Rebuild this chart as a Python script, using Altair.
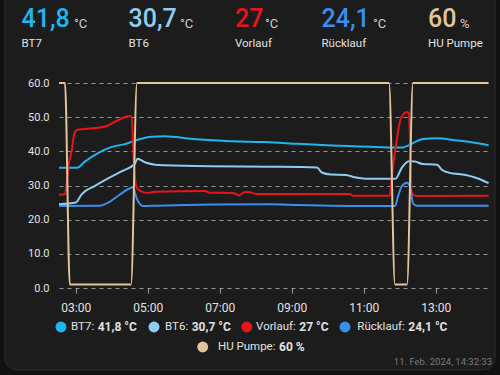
import altair as alt
import pandas as pd

DAY = "2024-02-11T"

# ---------------- data ----------------
series_names = ["BT7", "BT6", "Vorlauf", "Rücklauf", "HU Pumpe"]
series_colors = ["#1fb5f0", "#90cbf2", "#e8141c", "#3a8ef0", "#e3c49b"]
current_values = ["41,8", "30,7", "27", "24,1", "60"]
units = ["°C", "°C", "°C", "°C", "%"]

bt7_times = ["02:32", "03:02", "03:15", "03:37", "04:00", "04:22", "04:43", "05:07", "05:28",
             "06:15", "07:12", "08:15", "09:10", "10:07", "11:18", "12:03", "12:22", "12:38",
             "13:02", "13:35", "14:02", "14:28"]
bt7_values = [35.2, 35.2, 37.0, 39.5, 41.3, 42.1, 43.4, 44.3, 44.4,
              43.6, 43.0, 42.7, 42.2, 41.7, 41.3, 41.1, 42.4, 43.6,
              43.8, 43.2, 42.6, 41.8]

bt6_times = ["02:32", "03:00", "03:10", "03:32", "03:53", "04:17", "04:38", "04:43", "04:55",
             "05:12", "05:28", "06:43", "08:23", "09:42", "09:50", "10:05", "10:30", "10:45",
             "11:03", "11:53", "12:03", "12:15", "12:25", "12:38", "13:02", "13:10", "13:23",
             "13:50", "14:08", "14:28"]
bt6_values = [24.5, 25.0, 27.5, 29.9, 32.0, 34.2, 36.3, 37.8, 36.8,
              36.1, 35.9, 35.6, 35.5, 35.3, 33.8, 33.2, 33.1, 32.4,
              32.0, 32.0, 35.1, 37.1, 37.0, 36.3, 36.1, 34.6, 33.7,
              33.1, 32.2, 30.7]

vorlauf_times = ["02:32", "02:42", "02:45", "02:48", "02:53", "02:58", "03:03", "03:32", "03:53",
                 "04:10", "04:27", "04:33", "04:37", "04:42", "04:50", "05:00", "05:12", "06:35",
                 "06:43", "07:22", "07:32", "07:42", "07:50", "08:02", "10:37", "10:42", "11:43",
                 "11:48", "11:55", "12:02", "12:12", "12:15", "12:20", "12:28", "14:28"]
vorlauf_values = [27.3, 27.5, 31.0, 36.0, 40.0, 45.5, 46.3, 46.8, 47.5,
                  49.1, 50.3, 50.2, 36.0, 29.2, 28.2, 27.8, 28.2, 28.4,
                  27.9, 27.8, 27.1, 28.1, 28.0, 27.5, 27.5, 27.0, 27.0,
                  34.6, 43.4, 49.8, 51.5, 51.2, 27.8, 26.9, 27.0]

ruecklauf_times = ["02:32", "03:40", "03:57", "04:13", "04:30", "04:35", "04:42", "04:52", "05:15",
                   "08:23", "09:10", "11:18", "11:52", "11:57", "12:03", "12:12", "12:17", "12:22",
                   "12:28", "14:28"]
ruecklauf_values = [24.0, 24.1, 25.3, 27.3, 29.2, 29.5, 26.0, 24.0, 24.1,
                    24.5, 24.3, 24.0, 24.0, 26.8, 29.7, 30.8, 29.7, 24.8,
                    24.1, 24.1]

pumpe_times = ["02:32", "02:42", "02:50", "04:32", "04:42", "11:42", "11:52", "12:12", "12:22", "14:28"]
pumpe_values = [60, 60, 1, 1, 60, 60, 1, 1, 60, 60]

y_ticks = [0, 10, 20, 30, 40, 50, 60]
x_tick_hours = [3, 5, 7, 9, 11, 13]
timestamp_text = "11. Feb. 2024, 14:32:33"

series_data = [
    ("BT7", bt7_times, bt7_values),
    ("BT6", bt6_times, bt6_values),
    ("Vorlauf", vorlauf_times, vorlauf_values),
    ("Rücklauf", ruecklauf_times, ruecklauf_values),
    ("HU Pumpe", pumpe_times, pumpe_values),
]

# ---------------- layout ----------------
PL, PT, W, H = 59, 83, 432, 205
FONT = "Roboto"
BG = "#111111"
CARD = "#1c1c1c"
TEXT = "#e1e1e1"


def rx(x):
    return x - PL


def ry(y):
    return y - PT


def dt(h, m=0):
    return alt.DateTime(year=2024, month=2, date=11, hours=h, minutes=m)


x_scale = alt.Scale(domain=[dt(2, 32), dt(14, 32)])
y_scale = alt.Scale(domain=[0, 60], nice=False)

x_axis = alt.Axis(values=[dt(h) for h in x_tick_hours], format="%H:%M",
                  grid=False, domain=False, tickSize=5, tickColor="#a0a0a0",
                  labelColor=TEXT, labelFontSize=12, labelFont=FONT, labelPadding=9)
y_axis = alt.Axis(values=y_ticks, format=".1f", grid=True, gridDash=[4, 4],
                  gridColor="#bdbdbd", gridOpacity=0.75, domain=False, ticks=False,
                  labelColor=TEXT, labelFontSize=11, labelFont=FONT, labelPadding=10)

one = alt.Data(values=[{}])

layers = []

# series lines
for i, (name, ts, vs) in enumerate(series_data):
    df = pd.DataFrame({"time": [DAY + t for t in ts], "value": vs, "series": name})
    layers.append(
        alt.Chart(df).mark_line(color=series_colors[i], strokeWidth=2, interpolate="monotone").encode(
            x=alt.X("time:T", scale=x_scale, title=None, axis=x_axis),
            y=alt.Y("value:Q", scale=y_scale, title=None, axis=y_axis),
        )
    )

# header
header_x = [21.5, 128.5, 235, 321.5, 428]
unit_x = [74, 180, 265, 373, 460]
for i in range(5):
    layers.append(alt.Chart(one).mark_text(text=current_values[i], font=FONT, fontSize=25, fontWeight=500,
                                           color=series_colors[i], align="left", baseline="alphabetic")
                  .encode(x=alt.value(rx(header_x[i])), y=alt.value(ry(27))))
    layers.append(alt.Chart(one).mark_text(text=units[i], font=FONT, fontSize=13,
                                           color="#cfcfcf", align="left", baseline="alphabetic")
                  .encode(x=alt.value(rx(unit_x[i])), y=alt.value(ry(28))))
    layers.append(alt.Chart(one).mark_text(text=series_names[i], font=FONT, fontSize=11.5,
                                           color=TEXT, align="left", baseline="alphabetic")
                  .encode(x=alt.value(rx(header_x[i])), y=alt.value(ry(47))))

# custom legend
leg_dot_x = [61, 154, 246.7, 345, 202.7]
leg_bold_x = [97.7, 191.7, 299.3, 408.3, 279]
leg_y = [327, 327, 327, 327, 347]
for i in range(5):
    layers.append(alt.Chart(one).mark_point(filled=True, shape="circle", size=120, opacity=1,
                                            color=series_colors[i])
                  .encode(x=alt.value(rx(leg_dot_x[i])), y=alt.value(ry(leg_y[i]))))
    layers.append(alt.Chart(one).mark_text(text=series_names[i] + ":", font=FONT, fontSize=11.5,
                                           color=TEXT, align="right", baseline="middle")
                  .encode(x=alt.value(rx(leg_bold_x[i] - 3.5)), y=alt.value(ry(leg_y[i]))))
    layers.append(alt.Chart(one).mark_text(text=current_values[i] + " " + units[i], font=FONT, fontSize=12,
                                           fontWeight="bold", color=TEXT, align="left", baseline="middle")
                  .encode(x=alt.value(rx(leg_bold_x[i])), y=alt.value(ry(leg_y[i]))))

# timestamp
layers.append(alt.Chart(one).mark_text(text=timestamp_text, font=FONT, fontSize=9.5,
                                       color="#7a7a7a", align="right", baseline="alphabetic")
              .encode(x=alt.value(rx(492)), y=alt.value(ry(365))))

# outer page background around the rounded card (thick stroke outside the card edge)
layers.append(
    alt.Chart(one).mark_rect(fillOpacity=0, stroke=BG, strokeWidth=20, cornerRadius=22).encode(
        x=alt.value(rx(5 - 10)), x2=alt.value(rx(495 + 10)), y=alt.value(ry(-12 - 10)), y2=alt.value(ry(370 + 10))
    )
)
# card border
layers.append(
    alt.Chart(one).mark_rect(fillOpacity=0, stroke="#2c2c2c", strokeWidth=1, cornerRadius=12).encode(
        x=alt.value(rx(5)), x2=alt.value(rx(495)), y=alt.value(ry(-12)), y2=alt.value(ry(370))
    )
)

chart = alt.layer(*layers).properties(
    width=W, height=H,
    autosize=alt.AutoSizeParams(type="none"),
    padding={"left": PL, "top": PT, "right": 500 - PL - W, "bottom": 375 - PT - H},
    background=CARD,
).configure_view(stroke=None)

chart.save("out.html", embed_options={"renderer": "svg", "actions": False})
